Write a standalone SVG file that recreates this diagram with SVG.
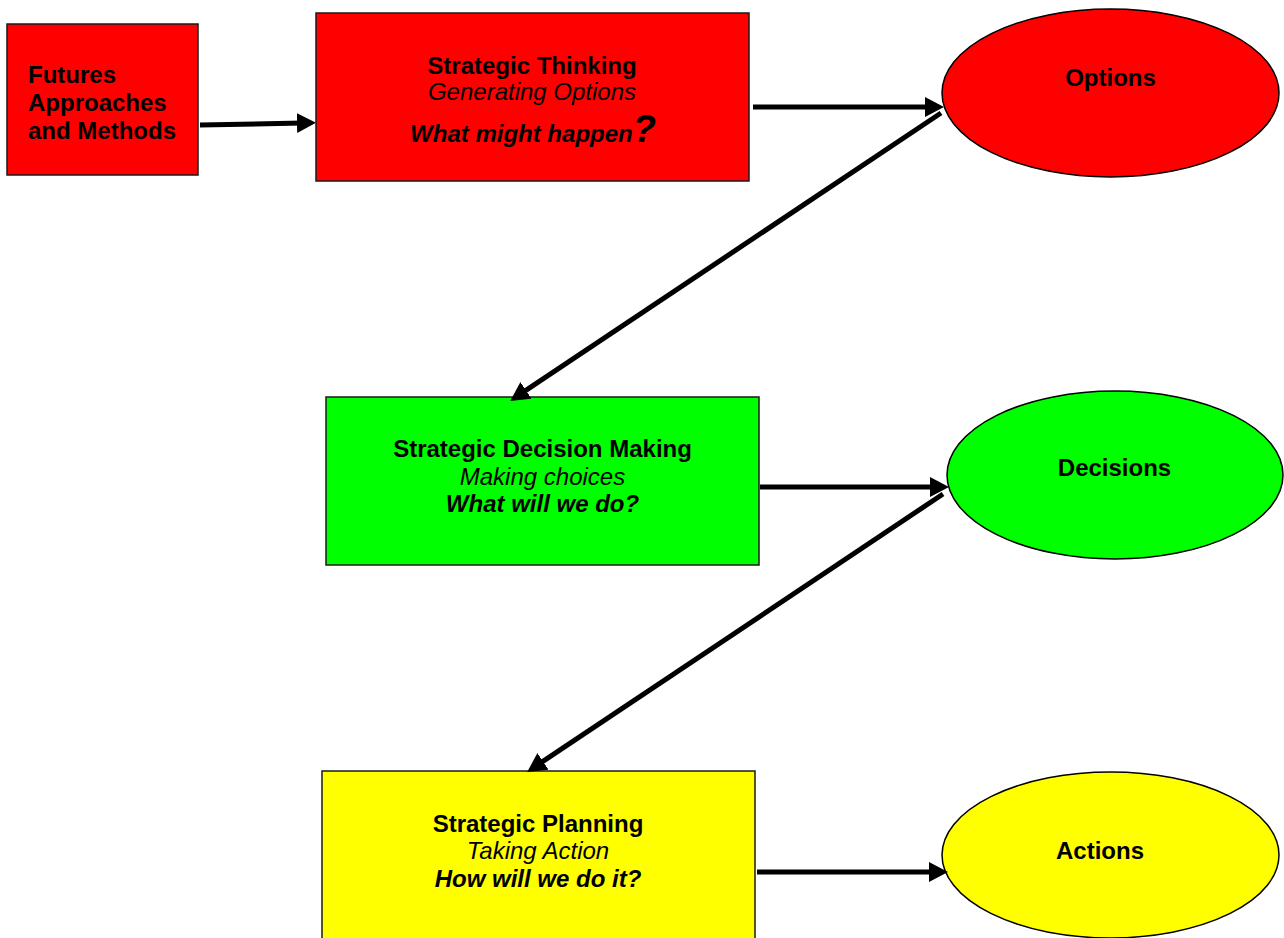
<svg xmlns="http://www.w3.org/2000/svg" width="1284" height="938" viewBox="0 0 1284 938">
<style>
.box{stroke:#1a1a1a;stroke-width:1.5}
.ell{stroke:#000;stroke-width:1.5}
.red{fill:#FF0000}.green{fill:#00FF00}.yellow{fill:#FFFF00}
text{font-family:"Liberation Sans",Arial,sans-serif;font-size:24px;fill:#000}
.b{font-weight:bold}
.i{font-style:italic}
.c{text-anchor:middle}
.conn line{stroke:#000;stroke-width:5;marker-end:url(#ah)}
</style>
<defs>
<marker id="ah" markerUnits="userSpaceOnUse" markerWidth="22" markerHeight="22" refX="6" refY="10" orient="auto">
<path d="M0,0 L19,10 L0,20 z" fill="#000"/>
</marker>
</defs>
<rect width="1284" height="938" fill="#fff"/>
<g id="futures">
<rect class="box red" x="7" y="24" width="191" height="151"/>
<text class="b" x="28" y="83">Futures</text>
<text class="b" x="28" y="111">Approaches</text>
<text class="b" x="28" y="139">and Methods</text>
</g>
<g id="thinking">
<rect class="box red" x="316" y="13" width="433" height="168"/>
<text class="b c" x="532" y="74">Strategic Thinking</text>
<text class="i c" x="532" y="100">Generating Options</text>
<text class="b i c" x="533" y="142">What might happen<tspan font-size="38px">?</tspan></text>
</g>
<g id="options">
<ellipse class="ell red" cx="1110.5" cy="93" rx="168.5" ry="84"/>
<text class="b c" x="1110.5" y="86">Options</text>
</g>
<g id="decision">
<rect class="box green" x="326" y="397" width="433" height="168"/>
<text class="b c" x="542.5" y="457">Strategic Decision Making</text>
<text class="i c" x="542.5" y="485">Making choices</text>
<text class="b i c" x="542.5" y="512">What will we do?</text>
</g>
<g id="decisions">
<ellipse class="ell green" cx="1115" cy="475" rx="168" ry="84"/>
<text class="b c" x="1114.5" y="476">Decisions</text>
</g>
<g id="planning">
<rect class="box yellow" x="322" y="771" width="433" height="180"/>
<text class="b c" x="538" y="832">Strategic Planning</text>
<text class="i c" x="538" y="859">Taking Action</text>
<text class="b i c" x="538" y="887">How will we do it?</text>
</g>
<g id="actions">
<ellipse class="ell yellow" cx="1110.5" cy="855" rx="168.5" ry="83"/>
<text class="b c" x="1100" y="859">Actions</text>
</g>
<g id="connectors" class="conn">
<line x1="200" y1="125" x2="303" y2="123"/>
<line x1="753" y1="107" x2="931" y2="107"/>
<line x1="941" y1="113" x2="521" y2="393.7"/>
<line x1="760" y1="487" x2="936" y2="487"/>
<line x1="943" y1="494" x2="538" y2="764.7"/>
<line x1="757" y1="872" x2="935" y2="872"/>
</g>
</svg>
